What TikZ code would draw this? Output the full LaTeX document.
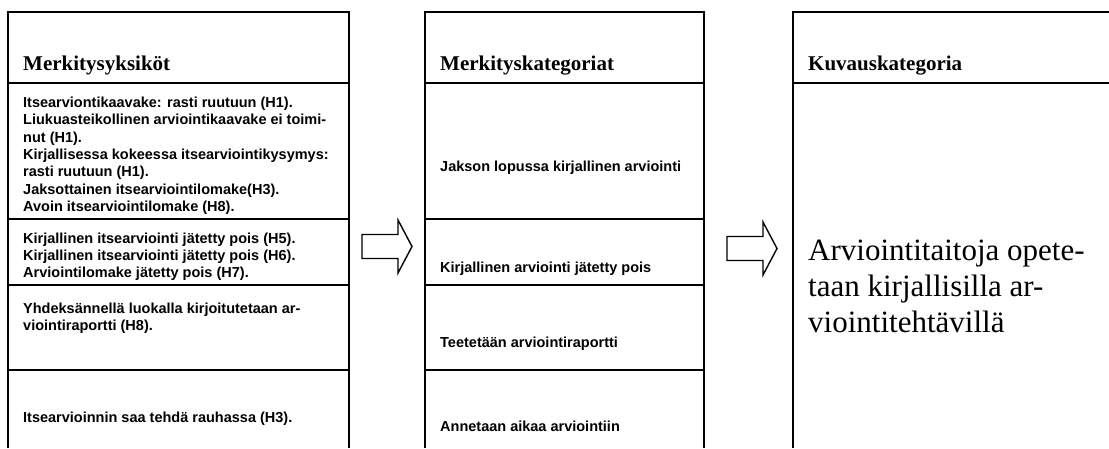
\documentclass[tikz,border=0pt]{standalone}
\usepackage{fontspec}
\setmainfont{Liberation Serif}
\newfontfamily\arialfont{Liberation Sans}
\begin{document}
\begin{tikzpicture}[x=1pt,y=-1pt,
  rule/.style={line width=2pt, line join=miter},
  head/.style={font=\bfseries\fontsize{21}{25}\selectfont, anchor=base west, inner sep=0pt},
  cell/.style={font=\arialfont\bfseries\fontsize{14.5}{17.3}\selectfont, anchor=base west, inner sep=0pt, align=left},
  big/.style={font=\fontsize{31}{36}\selectfont, anchor=base west, inner sep=0pt, align=left},
  pics/blockarrow/.style={code={
    \draw[line width=1.4pt, line join=miter, fill=white]
      (0,-12) -- (36,-12) -- (36,-26.5) -- (50,0) -- (36,26.5) -- (36,12) -- (0,12) -- cycle;}}]
\useasboundingbox (0,0) rectangle (1109,448);

% column frames (open at the bottom)
\draw[rule] (8,448) -- (8,12) -- (349,12) -- (349,448);
\draw[rule] (425,448) -- (425,12) -- (704,12) -- (704,448);
\draw[rule] (793,448) -- (793,12) -- (1109,12);

% header rules and cell separators
\draw[rule] (8,83) -- (349,83);
\draw[rule] (425,83) -- (704,83);
\draw[rule] (793,83) -- (1109,83);
\foreach \y in {219,285,370} {
  \draw[rule] (8,\y) -- (349,\y);
  \draw[rule] (425,\y) -- (704,\y);
}

% headings
\node[head] (hyks) at (23,70) {Merkitysyksiköt};
\node[head] (hkat) at (440,70) {Merkityskategoriat};
\node[head] (hkuv) at (808,70) {Kuvauskategoria};

% meaning units (anchored at the baseline of the last line)
\node[cell] (y1) at (23,211.3) {Itsearviontikaavake: rasti ruutuun (H1).\\
Liukuasteikollinen arviointikaavake ei toimi-\\
nut (H1).\\
Kirjallisessa kokeessa itsearviointikysymys:\\
rasti ruutuun (H1).\\
Jaksottainen itsearviointilomake(H3).\\
Avoin itsearviointilomake (H8).};
\node[cell] (y2) at (23,277.6) {Kirjallinen itsearviointi jätetty pois (H5).\\
Kirjallinen itsearviointi jätetty pois (H6).\\
Arviointilomake jätetty pois (H7).};
\node[cell] (y3) at (23,330.3) {Yhdeksännellä luokalla kirjoitutetaan ar-\\
viointiraportti (H8).};
\node[cell] (y4) at (23,422) {Itsearvioinnin saa tehdä rauhassa (H3).};

% meaning categories
\node[cell] (k1) at (440,171) {Jakson lopussa kirjallinen arviointi};
\node[cell] (k2) at (440,272) {Kirjallinen arviointi jätetty pois};
\node[cell] (k3) at (440,347) {Teetetään arviointiraportti};
\node[cell] (k4) at (440,431) {Annetaan aikaa arviointiin};

% description category
\node[big] (kuv) at (808,332) {Arviointitaitoja opete-\\
taan kirjallisilla ar-\\
viointitehtävillä};

% block arrows between the columns
\pic at (362,246.5) {blockarrow};
\pic at (727,248.5) {blockarrow};
\end{tikzpicture}
\end{document}
